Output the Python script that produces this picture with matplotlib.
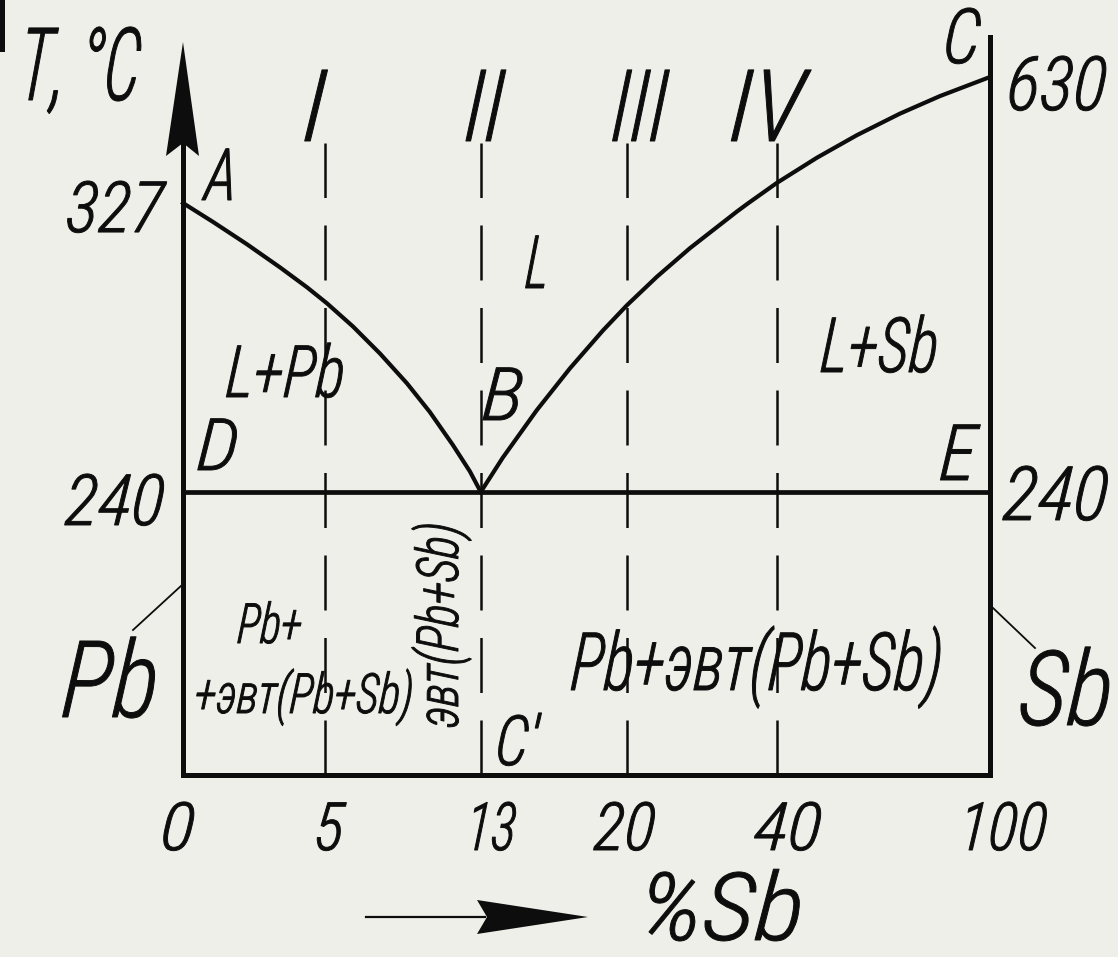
import numpy as np
import matplotlib
matplotlib.use("Agg")
import matplotlib.pyplot as plt
from matplotlib.patheffects import AbstractPathEffect
from matplotlib.transforms import Affine2D, blended_transform_factory, ScaledTranslation
from matplotlib.patches import Polygon, Rectangle
from matplotlib.lines import Line2D

# ---------------- data ----------------
comp_ticks = [0, 5, 13, 20, 40, 100]
comp_tick_labels = ["0", "5", "13", "20", "40", "100"]
alloy_comps = [5, 13, 20, 40]
alloy_labels = ["I", "II", "III", "IV"]
T_eutectic = 240
C_eutectic = 13
T_Pb = 327
T_Sb = 630
liq_left_comp = [0, 1.06, 2.25, 3.42, 4.37, 5.10, 6.44, 7.82, 9.21, 10.38, 11.56, 12.44, 13]
liq_left_temp = [327, 321.3, 314.6, 307.6, 301.6, 296.8, 289.8, 281.7, 272.7, 264.1, 254.2, 246.2, 240]
liq_right_comp = [13, 14.05, 15.68, 17.27, 18.85, 20, 24.0, 28.4, 34.7, 36.2, 40, 51.3, 62.5,
                  74.6, 85.9, 100]
liq_right_temp = [240, 250.3, 264.6, 277.2, 288.6, 296.2, 304.8, 313.4, 324.5, 327, 375.6, 436.2,
                  490.1, 541.8, 584.1, 630]
left_temp_labels = [(327, "327"), (240, "240")]
right_temp_labels = [(630, "630"), (240, "240")]

# ------------- layout / style ---------
W, H, DPI = 1118, 957, 100
BG = "#efefe9"
INK = "#0d0d0d"
FAMILY = ["Roboto Condensed", "Roboto", "DejaVu Sans"]
WEIGHT = "light"
SKEW = 4.0
STROKE = 0.7                                         # pt, slight emboldening of glyphs
x_frac = [0.0, 0.176, 0.369, 0.550, 0.736, 1.0]      # schematic spacing of composition axis
t_knots = [0, 240, 327, 630, 726]
t_frac = [0.0, 0.3835, 0.775, 0.9458, 1.0]           # schematic temperature axis


def pw(x, xp, fp):
    x = np.asarray(x, float)
    y = np.interp(x, xp, fp)
    s0 = (fp[1] - fp[0]) / (xp[1] - xp[0])
    s1 = (fp[-1] - fp[-2]) / (xp[-1] - xp[-2])
    y = np.where(x < xp[0], fp[0] + (x - xp[0]) * s0, y)
    y = np.where(x > xp[-1], fp[-1] + (x - xp[-1]) * s1, y)
    return y


class Hand(AbstractPathEffect):
    """Squeeze text horizontally to a given ink width and slant it (drafting style)."""
    def __init__(self, width_px=None, skew=SKEW, anchor="center", stroke=STROKE):
        super().__init__()
        self.width_px = width_px
        self.skew = skew
        self.anchor = anchor
        self.stroke = stroke

    def draw_path(self, renderer, gc, tpath, affine, rgbFace=None):
        ext = tpath.get_extents()
        m = affine.get_matrix()
        k = np.hypot(m[0, 0], m[1, 0])
        t = np.tan(np.radians(self.skew))
        sx = 1.0
        if self.width_px and ext.width > 0:
            target = max(self.width_px - ext.height * k * t, 2)
            sx = min(target / (ext.width * k), 1.1)
        cx = {"center": 0.5 * (ext.x0 + ext.x1), "left": ext.x0, "right": ext.x1}[self.anchor]
        cy = 0.5 * (ext.y0 + ext.y1)
        local = (Affine2D().translate(-cx, -cy).scale(sx, 1.0)
                 .skew_deg(self.skew, 0).translate(cx, cy))
        gc0 = renderer.new_gc()
        gc0.copy_properties(gc)
        gc0.set_linewidth(self.stroke)
        gc0.set_joinstyle("round")
        renderer.draw_path(gc0, tpath, local + affine, rgbFace)
        gc0.restore()


fig = plt.figure(figsize=(W / DPI, H / DPI), dpi=DPI, facecolor=BG)
ax = fig.add_axes([183 / W, 1 - 775 / H, (990 - 183) / W, (775 - 37) / H])
ax.set_facecolor("none")
ax.set_xscale("function", functions=(lambda c: pw(c, comp_ticks, x_frac),
                                     lambda f: pw(f, x_frac, comp_ticks)))
ax.set_yscale("function", functions=(lambda t: pw(t, t_knots, t_frac),
                                     lambda f: pw(f, t_frac, t_knots)))
ax.set_xlim(0, 100)
ax.set_ylim(0, 726)
for s in ax.spines.values():
    s.set_visible(False)
ax.set_xticks([])
ax.set_yticks([])

# frame
ax.axvline(0, ymin=0, ymax=0.86, lw=3.6, color=INK, clip_on=False, solid_capstyle="projecting")
ax.axvline(100, ymin=0, ymax=1.0, lw=3.6, color=INK, clip_on=False, solid_capstyle="projecting")
ax.plot([0, 100], [0, 0], lw=3.6, color=INK, clip_on=False, solid_capstyle="projecting")
# eutectic line D-E
ax.plot([0, 100], [T_eutectic, T_eutectic], lw=3.4, color=INK, clip_on=False)
# liquidus A-B and B-C
ax.plot(liq_left_comp, liq_left_temp, lw=3.0, color=INK, clip_on=False, solid_joinstyle="round")
ax.plot(liq_right_comp, liq_right_temp, lw=3.0, color=INK, clip_on=False, solid_joinstyle="round")
# alloy verticals
for c in alloy_comps:
    ax.axvline(c, ymin=0, ymax=0.857, lw=1.8, color=INK, ls=(0, (22, 11)), clip_on=False)


def P(x, y):
    return (x / W, 1 - y / H)


# y-axis arrow head
fig.add_artist(Polygon([P(183, 42), P(199, 156), P(183, 143), P(166, 156)],
                       closed=True, transform=fig.transFigure, color=INK, lw=0))
# %Sb arrow
fig.add_artist(Line2D([366 / W, 485 / W], [1 - 917 / H] * 2, transform=fig.transFigure,
                      lw=1.6, color=INK))
fig.add_artist(Polygon([P(477, 900), P(588, 917), P(477, 934), P(487, 917)],
                       closed=True, transform=fig.transFigure, color=INK, lw=0))
# leader lines
fig.add_artist(Line2D([133 / W, 182 / W], [1 - 630 / H, 1 - 585 / H], transform=fig.transFigure,
                      lw=1.3, color=INK))
fig.add_artist(Line2D([992 / W, 1035 / W], [1 - 607 / H, 1 - 648 / H], transform=fig.transFigure,
                      lw=1.3, color=INK))
# corner mark
fig.add_artist(Rectangle((0, 1 - 52 / H), 5 / W, 52 / H, transform=fig.transFigure,
                         color=INK, lw=0))

TXT = dict(color=INK, family=FAMILY, fontweight=WEIGHT, fontstyle="italic")


def style(t, width, anchor="center"):
    t.set_path_effects([Hand(width, anchor=anchor)])
    return t


def put(s, x, y, cap, width, rot=0, ha="center"):
    t = fig.text(x / W, 1 - y / H, s, fontsize=cap, ha=ha, va="baseline",
                 rotation=rot, rotation_mode="anchor", **TXT)
    return style(t, width, anchor=ha)


# x tick labels (composition)
tick_dx = [-5, 4, 10, -2, 11, 13]
tick_w = [32, 30, 45, 62, 68, 82]
for c, lab, dx, w in zip(comp_ticks, comp_tick_labels, tick_dx, tick_w):
    tr = blended_transform_factory(ax.transData, ax.transAxes) + \
        ScaledTranslation(dx / DPI, -75 / DPI, fig.dpi_scale_trans)
    t = ax.text(c, 0, lab, transform=tr, fontsize=48, ha="center", va="baseline",
                clip_on=False, **TXT)
    style(t, w)

# temperature labels
for (T, lab), dx, dy, w in zip(left_temp_labels, [-68, -68], [-29, -33], [100, 100]):
    tr = blended_transform_factory(ax.transAxes, ax.transData) + \
        ScaledTranslation(dx / DPI, dy / DPI, fig.dpi_scale_trans)
    t = ax.text(0, T, lab, transform=tr, fontsize=51, ha="center", va="baseline",
                clip_on=False, **TXT)
    style(t, w)
for (T, lab), dx, dy, w in zip(right_temp_labels, [67, 66], [-33, -28], [98, 106]):
    tr = blended_transform_factory(ax.transAxes, ax.transData) + \
        ScaledTranslation(dx / DPI, dy / DPI, fig.dpi_scale_trans)
    t = ax.text(1, T, lab, transform=tr, fontsize=54, ha="center", va="baseline",
                clip_on=False, **TXT)
    style(t, w)

# alloy numerals
for c, lab, dx, w in zip(alloy_comps, alloy_labels, [-10, 4, 13, -10], [None, 40, 57, 80]):
    tr = blended_transform_factory(ax.transData, fig.transFigure) + \
        ScaledTranslation(dx / DPI, 0, fig.dpi_scale_trans)
    t = ax.text(c, 1 - 141 / H, lab, transform=tr, fontsize=72, ha="center", va="baseline",
                clip_on=False, **TXT)
    style(t, w)

# axis titles
put("T, °C", 16, 100, 73, 120, ha="left")
put("%Sb", 722, 940, 68, 168)

# point letters
put("A", 222, 200, 52, 33)
put("B", 503, 420, 53, 40)
put("C", 962, 63, 55, 36)
put("D", 218, 470, 52, 40)
put("E", 958, 480, 56, 40)
put("C'", 517, 765, 50, 44)

# phase regions
put("L", 538, 288, 53, 22)
put("L+Pb", 286, 397, 52, 118)
put("L+Sb", 880, 372, 55, 117)
put("Pb+", 270, 643, 40, 65)
put("+эвт(Pb+Sb)", 304, 713, 40, 218)
put("эвт(Pb+Sb)", 458, 625, 42, 205, rot=90)
put("Pb+эвт(Pb+Sb)", 757, 690, 58, 372)

# components
put("Pb", 62, 717, 77, 95, ha="left")
put("Sb", 1114, 725, 75, 92, ha="right")

fig.savefig("out.png", dpi=DPI, facecolor=BG)
